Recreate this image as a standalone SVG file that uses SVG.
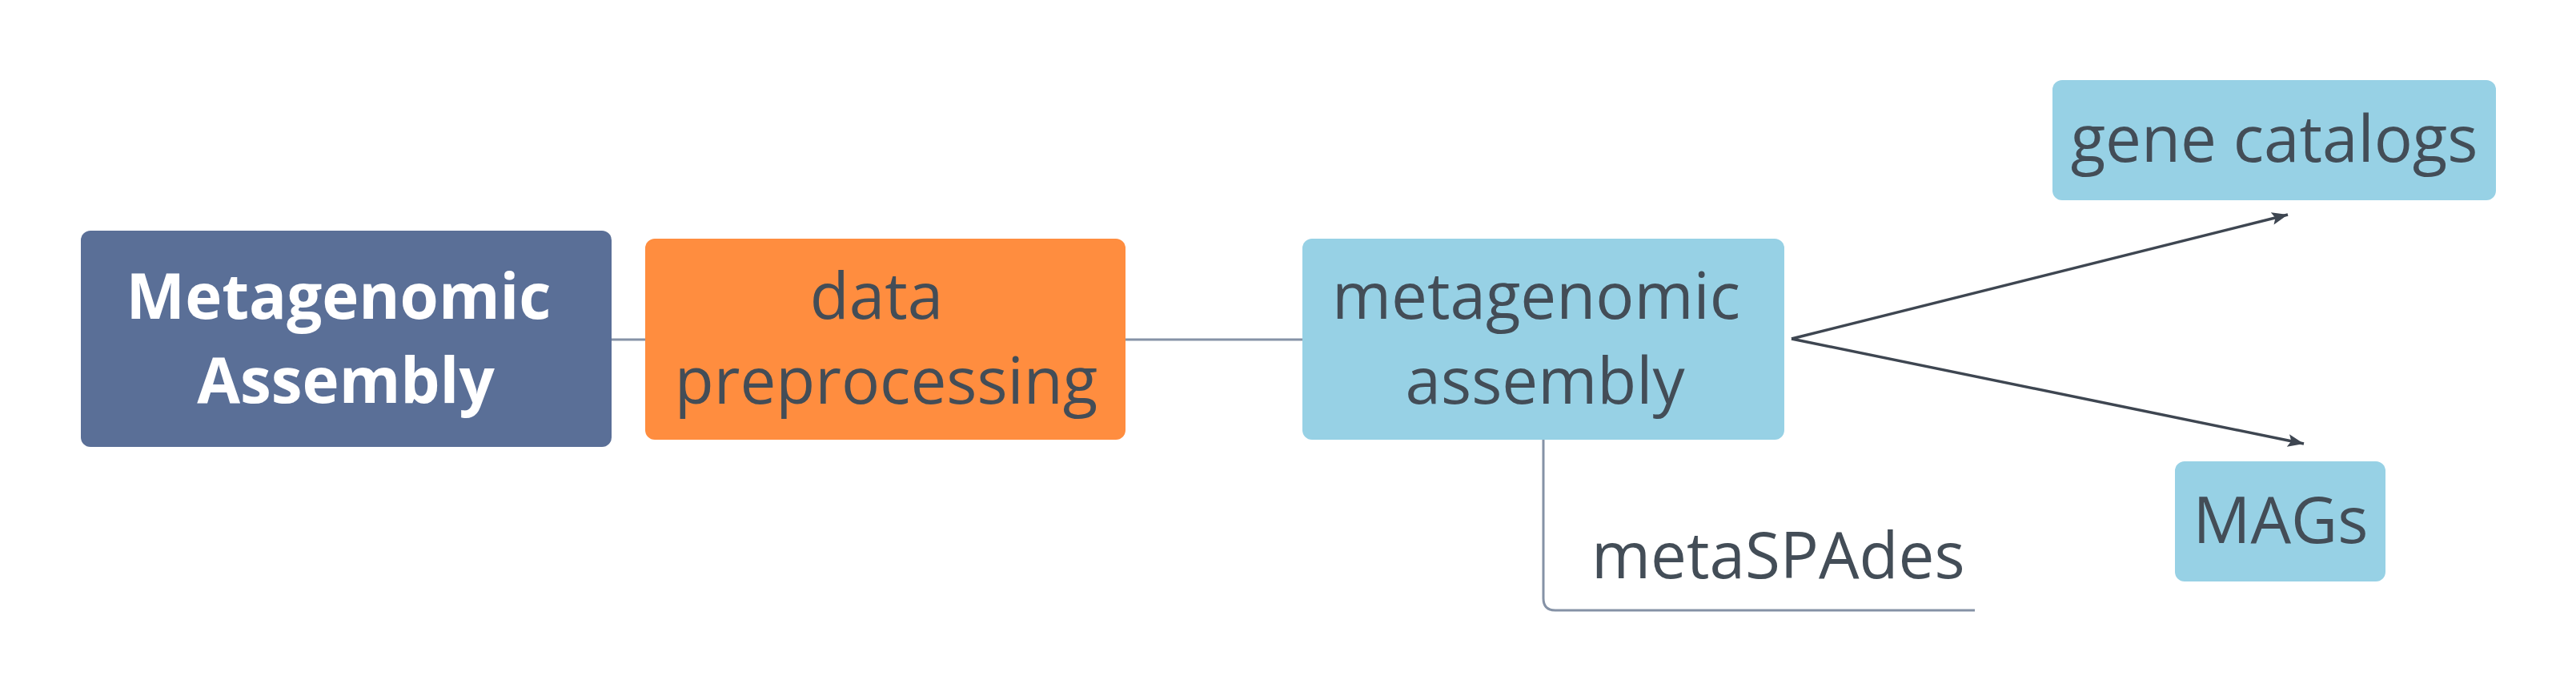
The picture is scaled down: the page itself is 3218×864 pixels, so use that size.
<svg xmlns="http://www.w3.org/2000/svg" width="3218" height="864" viewBox="0 0 3218 864">
<style>
.t{font-family:"Open Sans","Liberation Sans",sans-serif;font-size:80px;fill:#434d57;}
.tb{font-family:"Open Sans","Liberation Sans",sans-serif;font-size:78px;font-weight:bold;fill:#ffffff;}
.ln{fill:none;stroke:#8592a6;stroke-width:3;}
.ar{fill:none;stroke:#3e4651;stroke-width:3.5;}
</style>
<defs>
<marker id="ah" markerUnits="userSpaceOnUse" markerWidth="22" markerHeight="16" refX="20" refY="8" orient="auto">
<path d="M0,0 L20,8 L0,16 L4,8 Z" fill="#3e4651"/>
</marker>
</defs>
<rect width="3218" height="864" fill="#ffffff"/>
<g id="connectors">
<line class="ln" x1="764" y1="424" x2="806" y2="424"/>
<line class="ln" x1="1406" y1="424" x2="1627" y2="424"/>
<path class="ln" d="M1928,549 L1928,747 Q1928,762 1943,762 L2467,762"/>
<path class="ar" d="M2238,423 L2858,268" marker-end="url(#ah)"/>
<path class="ar" d="M2238,423 L2878,554" marker-end="url(#ah)"/>
</g>
<g id="node-root">
<rect x="101" y="288" width="663" height="270" rx="12" fill="#5a6f97"/>
<text class="tb" x="423" y="398" text-anchor="middle">Metagenomic</text>
<text class="tb" x="432" y="503" text-anchor="middle">Assembly</text>
</g>
<g id="node-preprocessing">
<rect x="806" y="298" width="600" height="251" rx="12" fill="#ff8d3f"/>
<text class="t" x="1095" y="398" text-anchor="middle">data</text>
<text class="t" x="1107" y="504" text-anchor="middle">preprocessing</text>
</g>
<g id="node-assembly">
<rect x="1627" y="298" width="602" height="251" rx="12" fill="#97d1e5"/>
<text class="t" x="1919" y="398" text-anchor="middle">metagenomic</text>
<text class="t" x="1930" y="504" text-anchor="middle">assembly</text>
</g>
<g id="node-metaspades">
<text class="t" x="1988" y="722">metaSPAdes</text>
</g>
<g id="node-gene-catalogs">
<rect x="2564" y="100" width="554" height="150" rx="12" fill="#97d1e5"/>
<text class="t" x="2841" y="202" text-anchor="middle">gene catalogs</text>
</g>
<g id="node-mags">
<rect x="2717" y="576" width="263" height="150" rx="12" fill="#97d1e5"/>
<text class="t" x="2849" y="678" text-anchor="middle">MAGs</text>
</g>
</svg>
